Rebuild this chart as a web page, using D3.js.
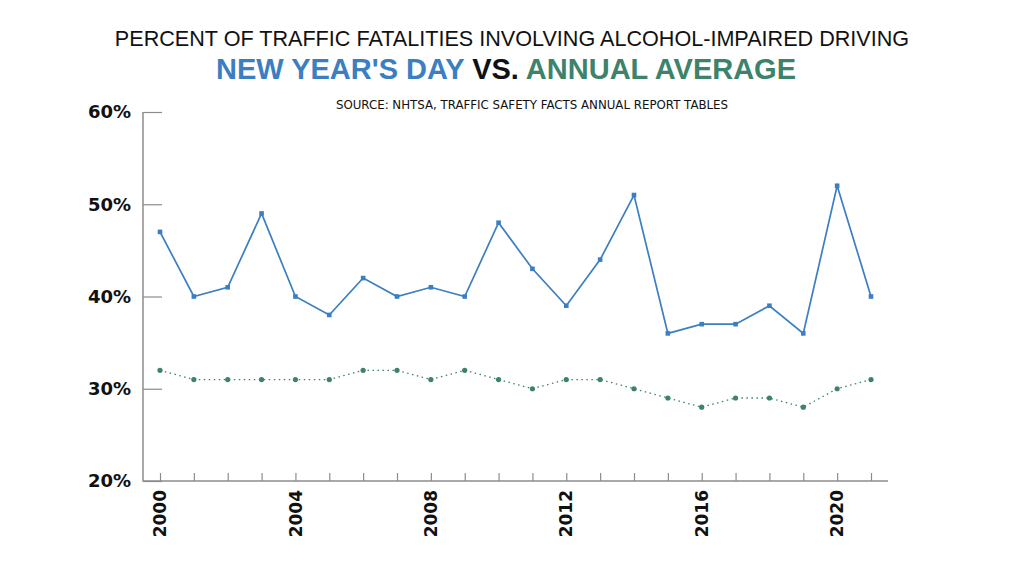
<!DOCTYPE html>
<html>
<head>
<meta charset="utf-8">
<script src="https://cdn.jsdelivr.net/npm/d3@7"></script>
<style>
  body { margin: 0; background: #fff; }
  svg { display: block; }
</style>
</head>
<body>
<svg width="1024" height="576"></svg>
<script>
// chart data
var years = [2000, 2001, 2002, 2003, 2004, 2005, 2006, 2007, 2008, 2009, 2010,
             2011, 2012, 2013, 2014, 2015, 2016, 2017, 2018, 2019, 2020, 2021];
var newYears = [47, 40, 41, 49, 40, 38, 42, 40, 41, 40, 48,
                43, 39, 44, 51, 36, 37, 37, 39, 36, 52, 40];
var annualAvg = [32, 31, 31, 31, 31, 31, 32, 32, 31, 32, 31,
                 30, 31, 31, 30, 29, 28, 29, 29, 28, 30, 31];
var yTicks = [20, 30, 40, 50, 60];
var xLabels = [2000, 2004, 2008, 2012, 2016, 2020];

var blue = '#3b7ec2';
var green = '#3d826b';
var axisGrey = '#8c8c8c';

var svg = d3.select('svg');

var x = d3.scaleLinear().domain([2000, 2021]).range([160, 871]);
var y = d3.scaleLinear().domain([20, 60]).range([481, 112]);

// titles
svg.append('text')
    .attr('x', 512).attr('y', 46)
    .attr('text-anchor', 'middle')
    .style('font-family', '"Liberation Sans", Arial, sans-serif')
    .style('font-size', '21.6px')
    .style('fill', '#111')
    .text('PERCENT OF TRAFFIC FATALITIES INVOLVING ALCOHOL-IMPAIRED DRIVING');

var sub = svg.append('text')
    .attr('x', 506).attr('y', 79)
    .attr('text-anchor', 'middle')
    .style('font-family', '"Liberation Sans", Arial, sans-serif')
    .style('font-weight', 'bold')
    .style('font-size', '29px');
sub.append('tspan').style('fill', blue).text("NEW YEAR'S DAY");
sub.append('tspan').style('fill', '#111').text(' VS. ');
sub.append('tspan').style('fill', green).text('ANNUAL AVERAGE');

svg.append('text')
    .attr('x', 532).attr('y', 109)
    .attr('text-anchor', 'middle')
    .style('font-family', '"DejaVu Sans", sans-serif')
    .style('font-size', '11.8px')
    .style('fill', '#111')
    .text('SOURCE: NHTSA, TRAFFIC SAFETY FACTS ANNUAL REPORT TABLES');

// y axis
var yAxis = d3.axisRight(y)
    .tickValues(yTicks)
    .tickSize(19)
    .tickFormat('');
var gy = svg.append('g')
    .attr('transform', 'translate(143,0)')
    .call(yAxis);
gy.select('.domain').remove();
gy.selectAll('line').attr('stroke', axisGrey).attr('stroke-width', 1.2);

svg.append('line')
    .attr('x1', 143).attr('x2', 143)
    .attr('y1', y(60)).attr('y2', y(20) + 0.5)
    .attr('stroke', axisGrey).attr('stroke-width', 1.5);

svg.selectAll('.ylab').data(yTicks)
  .enter()
    .append('text')
    .attr('class', 'ylab')
    .attr('x', 131)
    .attr('y', function(d){ return y(d); })
    .attr('dy', '0.36em')
    .attr('text-anchor', 'end')
    .style('font-family', '"DejaVu Sans", sans-serif')
    .style('font-weight', 'bold')
    .style('font-size', '18px')
    .style('fill', '#111')
    .text(function(d){ return d + '%'; });

// x axis
var xAxis = d3.axisTop(x)
    .tickValues(years)
    .tickSize(8)
    .tickFormat('');
var gx = svg.append('g')
    .attr('transform', 'translate(0,481)')
    .call(xAxis);
gx.select('.domain').remove();
gx.selectAll('line').attr('stroke', axisGrey).attr('stroke-width', 1.2);

svg.append('line')
    .attr('x1', 143).attr('x2', 888)
    .attr('y1', 481).attr('y2', 481)
    .attr('stroke', axisGrey).attr('stroke-width', 1.5);

svg.selectAll('.xlab').data(xLabels)
  .enter()
    .append('text')
    .attr('class', 'xlab')
    .attr('transform', function(d){ return 'translate(' + x(d) + ',490) rotate(-90)'; })
    .attr('dy', '0.36em')
    .attr('text-anchor', 'end')
    .style('font-family', '"DejaVu Sans", sans-serif')
    .style('font-weight', 'bold')
    .style('font-size', '17px')
    .style('fill', '#111')
    .text(function(d){ return d; });

// lines
var line = d3.line()
    .x(function(d, i){ return x(years[i]); })
    .y(function(d){ return y(d); });

svg.append('path')
    .datum(annualAvg)
    .attr('d', line)
    .attr('fill', 'none')
    .attr('stroke', green)
    .attr('stroke-width', 1.3)
    .attr('stroke-dasharray', '1.5,3.5');

svg.selectAll('.avg').data(annualAvg)
  .enter()
    .append('circle')
    .attr('class', 'avg')
    .attr('cx', function(d, i){ return x(years[i]); })
    .attr('cy', function(d){ return y(d); })
    .attr('r', 2.6)
    .attr('fill', green);

svg.append('path')
    .datum(newYears)
    .attr('d', line)
    .attr('fill', 'none')
    .attr('stroke', blue)
    .attr('stroke-width', 1.7);

svg.selectAll('.nyd').data(newYears)
  .enter()
    .append('rect')
    .attr('class', 'nyd')
    .attr('x', function(d, i){ return x(years[i]) - 2.3; })
    .attr('y', function(d){ return y(d) - 2.3; })
    .attr('width', 4.6)
    .attr('height', 4.6)
    .attr('fill', blue);
</script>
</body>
</html>
